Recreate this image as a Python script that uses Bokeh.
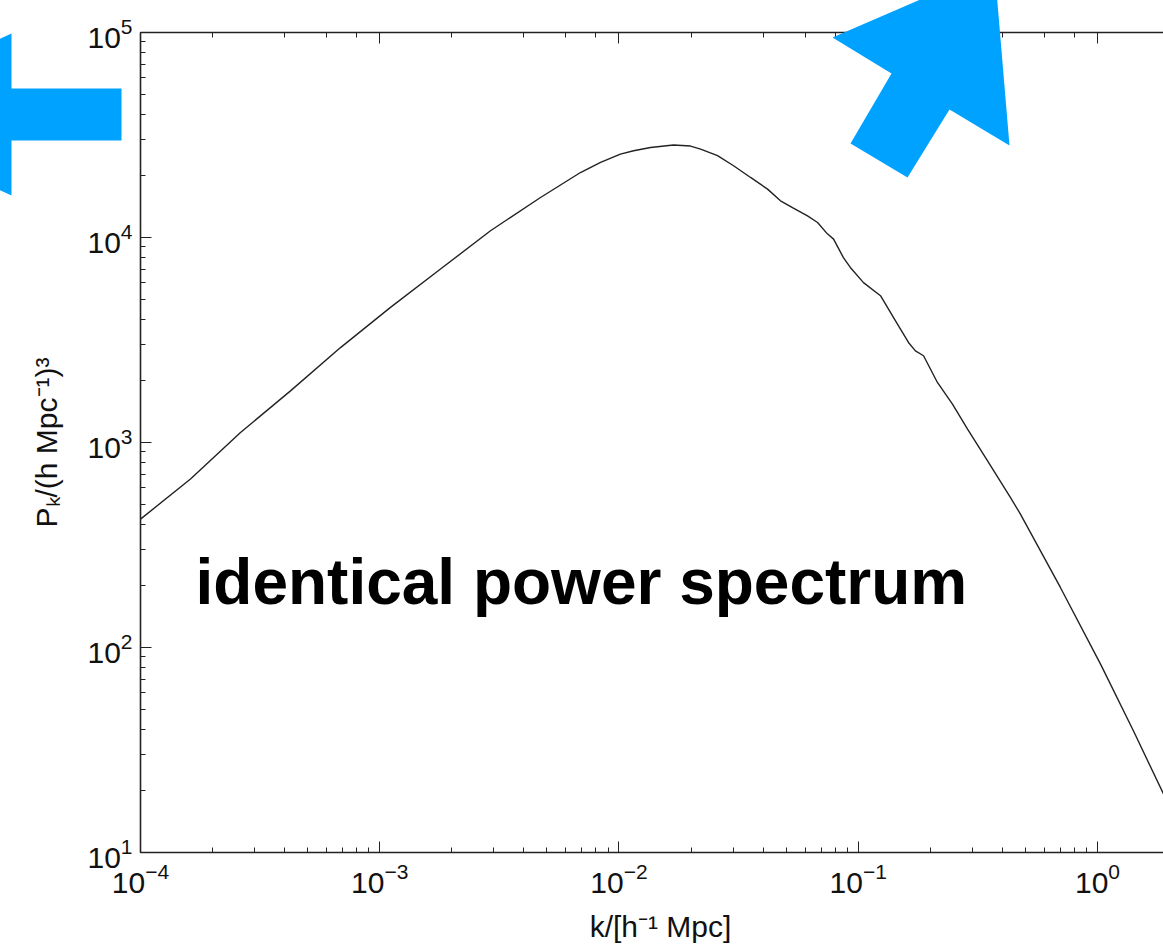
import numpy as np
from bokeh.plotting import figure
from bokeh.models import LogAxis, Label, CustomJSTickFormatter
from bokeh.core.properties import value
from bokeh.embed import file_html
from bokeh.resources import INLINE

# ---- data (k in h^-1 Mpc, P in (h^-1 Mpc)^3) ----
k_values = [1.0e-4, 1.618e-4, 2.618e-4, 4.236e-4, 6.855e-4, 1.109e-3, 1.795e-3,
            2.904e-3, 4.699e-3, 6.902e-3, 8.375e-3, 1.014e-2, 1.151e-2, 1.355e-2,
            1.690e-2, 1.991e-2, 2.193e-2, 2.582e-2, 3.013e-2, 3.548e-2, 4.178e-2,
            4.732e-2, 5.358e-2, 6.138e-2, 6.761e-2, 7.430e-2, 7.889e-2,
            8.670e-2, 9.268e-2, 0.1052, 0.1239, 0.1403, 0.1622, 0.1734, 0.1875, 0.2143,
            0.2477, 0.2864, 0.3467, 0.4325, 0.4764, 0.6998, 1.030, 1.413, 1.888]
P_values = [422.7, 663.7, 1119, 1786, 2904, 4560, 7015,
            10790, 15670, 20750, 23230, 25530, 26490, 27480,
            28250, 27930, 26980, 25060, 22390, 19630, 17220,
            15100, 13900, 12760, 11830, 10420, 9817,
            7980, 7145, 6026, 5200, 4074, 3076, 2799, 2649, 1963,
            1538, 1161, 814.7, 539.5, 447.7, 196.3, 82.99, 39.26, 19.28]

x_label = "k/[h\u207b\u00b9 Mpc]"
y_label = "P\u2096/(h Mpc\u207b\u00b9)\u00b3"
annotation_text = "identical power spectrum"

# ---- layout ----
W, H = 1163, 951
LEFT, TOP, BOTTOM = 140, 32, 99
X_START, X_END = 1e-4, 1.888
Y_START, Y_END = 10.0, 1e5
FONT = "Liberation Sans"
BLUE = "#00A2FF"
INK = "#222222"

p = figure(width=W, height=H, x_axis_type="log", y_axis_type="log",
           x_range=(X_START, X_END), y_range=(Y_START, Y_END),
           output_backend="svg", toolbar_location=None,
           min_border_left=LEFT, min_border_top=TOP,
           min_border_bottom=BOTTOM, min_border_right=0)
p.outline_line_color = None
p.grid.visible = False
p.background_fill_color = "white"
p.border_fill_color = "white"

p.line(k_values, P_values, line_color=INK, line_width=1.4)

for ax in (p.xaxis[0], p.yaxis[0]):
    ax.axis_line_width = 1.6
    ax.axis_line_color = INK
    ax.major_tick_in = 11
    ax.major_tick_out = 0
    ax.minor_tick_in = 5
    ax.minor_tick_out = 0
    ax.major_tick_line_color = INK
    ax.minor_tick_line_color = INK
    ax.major_label_text_font = FONT
    ax.major_label_text_font_size = "30px"
    ax.major_label_text_color = "#111111"
    ax.axis_label_text_font = FONT
    ax.axis_label_text_font_size = "30px"
    ax.axis_label_text_font_style = "normal"
    ax.axis_label_text_color = "#111111"

p.yaxis[0].axis_label = y_label
p.xaxis[0].major_label_standoff = 10
p.yaxis[0].major_label_standoff = 8
p.yaxis[0].axis_label_standoff = 21

top = LogAxis(axis_line_width=1.6, axis_line_color=INK,
              major_tick_in=11, major_tick_out=0, minor_tick_in=5, minor_tick_out=0,
              major_tick_line_color=INK, minor_tick_line_color=INK,
              formatter=CustomJSTickFormatter(code="return ''"),
              major_label_standoff=0)
p.add_layout(top, "above")

# pixel -> data helpers for the annotation overlay
def px2x(px):
    lo, hi = np.log10(X_START), np.log10(X_END)
    return float(10 ** (lo + (px - LEFT) / (W - LEFT) * (hi - lo)))

def py2y(py):
    lo, hi = np.log10(Y_START), np.log10(Y_END)
    return float(10 ** (hi - (py - TOP) / (H - TOP - BOTTOM) * (hi - lo)))

# x-axis title (the original plot frame extends past the window, so it sits right of centre)
p.text(x=[px2x(660)], y=[py2y(926)], text=[x_label], text_font=value(FONT),
       text_font_size="30px", text_color="#111111", text_align="center",
       text_baseline="middle", level="overlay")

p.add_layout(Label(x=px2x(195), y=py2y(581), text=annotation_text,
                   text_font=FONT, text_font_size="64px", text_font_style="bold",
                   text_color="black", text_baseline="middle", text_align="left"))

left_arrow = [(-170, 114), (11, 33), (11, 88), (121, 88), (121, 140), (11, 140), (11, 195)]
right_arrow = [(994, -33), (1009, 145), (949, 109), (907, 177), (850, 143), (891, 73), (832, 37)]
for shape in (left_arrow, right_arrow):
    p.patch([px2x(a) for a, b in shape], [py2y(b) for a, b in shape],
            fill_color=BLUE, fill_alpha=1.0, line_color=None, level="overlay")

open("out.html", "w").write(file_html(p, INLINE))
